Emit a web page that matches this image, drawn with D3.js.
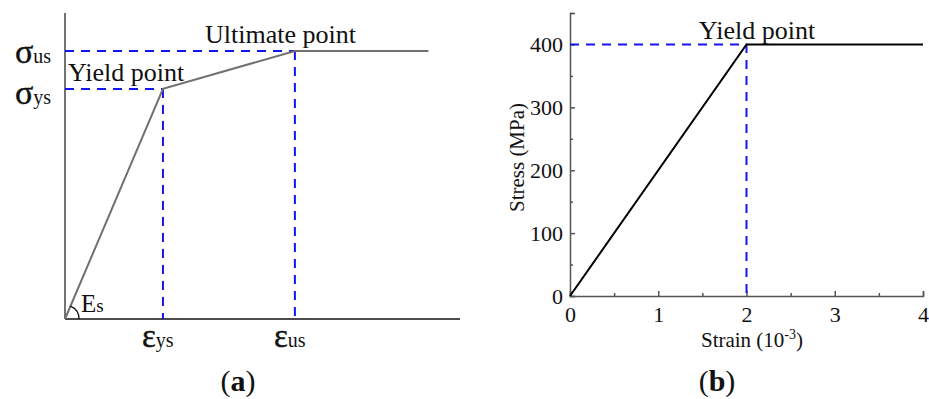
<!DOCTYPE html>
<html><head><meta charset="utf-8">
<script src="https://cdn.jsdelivr.net/npm/d3@7"></script>
<style>body{margin:0;background:#fff}svg{display:block}text{font-family:"Liberation Serif","Times New Roman",serif}</style>
</head><body><svg id="c" width="929" height="399"></svg>
<script>
// Panel (a): schematic bilinear steel model (normalised units)
const aStrain = [0, 0.248, 0.582, 0.92];
const aStress = [0, 0.752, 0.876, 0.876];
// Panel (b): elastic-perfectly-plastic model
const bStrain = [0, 2, 4];          // 10^-3
const bStress = [0, 400, 400];      // MPa
const bXTicks = [0, 1, 2, 3, 4];
const bYTicks = [0, 100, 200, 300, 400];
const bXMinor = [0.5, 1.5, 2.5, 3.5];
const bYMinor = [50, 150, 250, 350, 450];

const svg = d3.select("#c");
const blue = "#1515f0";

// ---------- Panel (a)
const ax = d3.scaleLinear().domain([0, 1]).range([65, 460]);
const ay = d3.scaleLinear().domain([0, 1]).range([319, 13]);
const ga = svg.append("g");
ga.append("line").attr("x1", ax(0)).attr("x2", ax(0)).attr("y1", ay(0)).attr("y2", ay(1)).attr("stroke", "#444").attr("stroke-width", 1.5);
ga.append("line").attr("x1", ax(0)).attr("x2", ax(1)).attr("y1", ay(0)).attr("y2", ay(0)).attr("stroke", "#111").attr("stroke-width", 1.5);
[1, 2].forEach(i => {
  ga.append("path").attr("d", `M${ax(0)},${ay(aStress[i])}H${ax(aStrain[i])}`)
    .attr("stroke", blue).attr("stroke-width", 2).attr("stroke-dasharray", "9,7").attr("fill", "none");
  ga.append("path").attr("d", `M${ax(aStrain[i])},${ay(aStress[i])}V${ay(0)}`)
    .attr("stroke", blue).attr("stroke-width", 2).attr("stroke-dasharray", "9,7").attr("fill", "none");
});
const la = d3.line().x((d, i) => ax(aStrain[i])).y((d, i) => ay(aStress[i]));
ga.append("path").attr("d", la(aStrain)).attr("fill", "none").attr("stroke", "#707070").attr("stroke-width", 2);
const ang = Math.atan2(ay(0) - ay(aStress[1]), ax(aStrain[1]) - ax(0));
const r = 14;
ga.append("path").attr("d", `M${ax(0) + r},${ay(0)}A${r},${r} 0 0 0 ${ax(0) + r * Math.cos(ang)},${ay(0) - r * Math.sin(ang)}`)
  .attr("fill", "none").attr("stroke", "#111").attr("stroke-width", 1.3);

function sym(g, x, y, big, sub, bigSize, subSize, heavy) {
  const t = g.append("text").attr("x", x).attr("y", y).attr("fill", "#111");
  const b = t.append("tspan").attr("font-size", bigSize).text(big);
  if (heavy) b.attr("stroke", "#111").attr("stroke-width", 0.4);
  t.append("tspan").attr("font-size", subSize).text(sub);
  return t;
}
sym(ga, 15, 63, "σ", "us", 34, 20, true);
sym(ga, 15, 104, "σ", "ys", 34, 20, true);
sym(ga, 142, 347, "ε", "ys", 33, 20, true);
sym(ga, 274, 347, "ε", "us", 33, 20, true);
sym(ga, 81, 312, "E", "s", 25, 19, false);
ga.append("text").attr("x", 68).attr("y", 81).attr("font-size", 26).attr("fill", "#111").text("Yield point");
ga.append("text").attr("x", 205).attr("y", 43).attr("font-size", 26).attr("fill", "#111").text("Ultimate point");
const capA = ga.append("text").attr("x", 238).attr("y", 391).attr("font-size", 30).attr("text-anchor", "middle").attr("fill", "#111");
capA.append("tspan").text("(");
capA.append("tspan").attr("font-weight", "bold").text("a");
capA.append("tspan").text(")");

// ---------- Panel (b)
const bx = d3.scaleLinear().domain([0, 4]).range([570, 923]);
const by = d3.scaleLinear().domain([0, 450]).range([296, 13]);
const gb = svg.append("g");
const axisCol = "#555";
const gx = gb.append("g").attr("transform", `translate(0,${by(0)})`)
  .call(d3.axisBottom(bx).tickValues(bXTicks).tickSize(-5).tickPadding(10).tickFormat(d3.format("d")));
gb.append("g").attr("transform", `translate(0,${by(0)})`)
  .call(d3.axisBottom(bx).tickValues(bXMinor).tickSize(-3).tickFormat(""))
  .call(g => g.select(".domain").remove());
const gy = gb.append("g").attr("transform", `translate(${bx(0)},0)`)
  .call(d3.axisLeft(by).tickValues(bYTicks).tickSize(-5).tickPadding(7).tickFormat(d3.format("d")));
gb.append("g").attr("transform", `translate(${bx(0)},0)`)
  .call(d3.axisLeft(by).tickValues(bYMinor).tickSize(-3).tickFormat(""))
  .call(g => g.select(".domain").remove());
gb.selectAll(".domain, .tick line").attr("stroke", axisCol).attr("stroke-width", 1.5);
gb.selectAll(".tick text").attr("font-size", 22).attr("fill", "#111");
gx.selectAll(".tick text").attr("dy", "0.71em");
gb.append("path").attr("d", `M${bx(0)},${by(bStress[1])}H${bx(bStrain[1])}V${by(0)}`)
  .attr("fill", "none").attr("stroke", blue).attr("stroke-width", 2).attr("stroke-dasharray", "9,7");
const lb = d3.line().x((d, i) => bx(bStrain[i])).y((d, i) => by(bStress[i]));
gb.append("path").attr("d", lb(bStrain)).attr("fill", "none").attr("stroke", "#000").attr("stroke-width", 2);
gb.append("text").attr("x", 757).attr("y", 39).attr("font-size", 26).attr("text-anchor", "middle").attr("fill", "#111").text("Yield point");
const xl = gb.append("text").attr("x", 752).attr("y", 347).attr("font-size", 21).attr("text-anchor", "middle").attr("fill", "#111");
xl.append("tspan").text("Strain (10");
xl.append("tspan").attr("font-size", 14).attr("dy", -8).text("-3");
xl.append("tspan").attr("dy", 8).text(")");
gb.append("text").attr("transform", `translate(524,${(by(0) + by(450)) / 2 + 3}) rotate(-90)`)
  .attr("font-size", 21).attr("text-anchor", "middle").attr("fill", "#111").text("Stress (MPa)");
const capB = gb.append("text").attr("x", 717).attr("y", 391).attr("font-size", 30).attr("text-anchor", "middle").attr("fill", "#111");
capB.append("tspan").text("(");
capB.append("tspan").attr("font-weight", "bold").text("b");
capB.append("tspan").text(")");
</script></body></html>
